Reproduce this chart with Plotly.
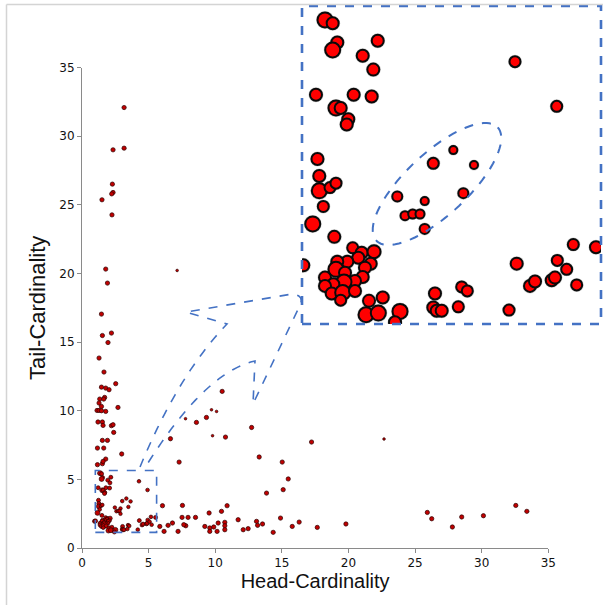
import numpy as np
import plotly.graph_objects as go

# ---------------- data ----------------
# points outside the zoom box (Head-Cardinality, Tail-Cardinality)
head_out = [3.16, 3.16, 2.33, 2.28, 2.33, 2.23, 1.50, 2.25, 1.78, 7.14, 1.91, 1.46, 2.21, 1.53,
            1.95, 1.28, 1.65, 2.53, 1.46, 1.78, 2.03, 1.70, 1.33, 1.63, 1.28, 1.46, 2.70, 1.13,
            1.28, 1.46, 1.78, 1.20, 1.53, 2.21, 2.33, 1.58, 2.38, 1.53, 1.91, 1.16, 1.63, 1.78,
            2.98, 1.16, 1.53, 1.58,
            7.77, 8.59, 9.34, 9.72, 10.10, 10.52, 6.64, 9.80, 10.77, 7.29, 12.73, 13.30, 13.85,
            15.03, 15.48, 15.10, 6.04, 7.54, 7.51, 7.79, 7.64, 7.96, 8.52, 5.84, 6.16, 6.46,
            6.79, 7.21, 9.54, 9.22, 9.59, 9.89, 9.59, 10.14, 10.22, 10.47, 10.89, 10.72, 10.72,
            10.72, 11.72, 12.10, 12.47, 13.10, 13.18, 13.55, 14.35, 14.90, 15.78, 16.30,
            17.23, 22.67, 17.66, 19.81, 25.92, 26.25, 27.80, 28.50, 30.13, 32.56, 33.39, 0.95]
tail_out = [32.09, 29.13, 29.01, 26.51, 25.90, 25.80, 25.37, 24.27, 20.32, 20.22, 19.30, 17.04, 15.66, 15.48,
            14.97, 13.84, 12.82, 11.97, 11.72, 11.65, 11.53, 10.97, 10.85, 10.85, 10.56, 10.31, 10.24, 10.02,
            10.02, 10.00, 9.95, 9.18, 9.18, 8.91, 8.98, 8.93, 8.42, 7.84, 7.84, 7.28, 7.28, 6.48,
            6.85, 6.07, 6.14, 6.31,
            9.42, 9.15, 9.51, 10.07, 9.95, 11.41, 7.96, 8.18, 8.08, 6.26, 8.78, 6.63, 4.00,
            6.26, 5.03, 4.25, 3.08, 3.10, 2.23, 1.62, 1.70, 2.23, 2.23, 1.57, 1.21, 1.65,
            1.82, 1.21, 2.55, 1.57, 1.46, 1.53, 1.21, 1.21, 1.82, 2.67, 3.08, 1.87, 1.62,
            1.33, 2.06, 1.33, 1.41, 1.94, 1.65, 1.75, 1.14, 2.18, 1.57, 1.89,
            7.72, 7.94, 1.50, 1.75, 2.59, 2.13, 1.53, 2.26, 2.35, 3.10, 2.67, 1.95]
tiny_out = [0, 0, 0, 0, 0, 0, 0, 0, 0, 1, 0, 0, 0, 0,
            0, 0, 0, 0, 0, 0, 0, 0, 0, 0, 0, 0, 0, 0,
            0, 0, 0, 0, 0, 0, 0, 0, 0, 0, 0, 0, 0, 0,
            0, 0, 0, 0,
            1, 0, 0, 1, 1, 0, 0, 1, 0, 0, 0, 0, 0,
            0, 0, 0, 0, 0, 0, 0, 0, 0, 0, 0, 0, 0,
            0, 0, 0, 0, 0, 0, 0, 0, 0, 0, 0, 0, 0,
            0, 0, 0, 0, 0, 0, 0, 0, 0, 0, 0,
            0, 1, 0, 0, 0, 0, 0, 0, 0, 0, 0, 0]

# points inside the zoom box (shown enlarged in the inset)
head_in = [1.354, 1.472, 1.543, 1.472, 2.165, 1.934, 2.097, 4.277, 1.215, 1.795, 2.072, 1.523,
           1.595, 1.712, 1.688, 4.919, 1.238, 3.328, 3.020, 3.646, 1.266, 1.266, 1.431, 1.523,
           1.328, 1.165, 1.497, 2.466, 2.888, 3.482, 2.585, 2.703, 2.815, 2.888,
           1.780, 1.918, 2.108, 1.866, 2.057, 1.697, 1.543, 1.523, 1.969, 1.354, 1.662, 1.934,
           1.815, 1.646, 1.482, 1.354, 1.457, 1.626, 1.815, 1.595, 2.031, 2.242, 1.985, 2.174,
           2.508, 1.020, 2.431,
           3.046, 3.457, 3.543, 3.020, 3.072, 3.149, 3.405, 4.185, 4.303, 4.508, 4.585, 4.842,
           4.892, 4.928, 5.072, 5.174, 5.226, 5.523]
tail_in = [5.453, 5.406, 5.133, 5.026, 5.157, 4.945, 4.748, 4.861, 4.391, 4.391, 4.367, 4.203,
           4.203, 4.043, 3.969, 4.227, 3.480, 3.606, 3.419, 3.395, 3.240, 3.029, 3.075, 3.137,
           2.807, 2.559, 2.376, 2.948, 2.883, 2.996, 2.676, 2.700, 2.700, 2.489,
           2.221, 2.150, 2.165, 2.080, 1.995, 2.024, 2.024, 1.915, 1.939, 1.798, 1.868, 1.806,
           1.750, 1.736, 1.704, 1.680, 1.573, 1.587, 1.609, 1.478, 1.468, 1.516, 1.271, 1.295,
           1.319, 1.972, 1.164,
           1.573, 1.666, 1.609, 1.375, 1.327, 1.327, 1.384, 1.337, 1.996, 1.680, 1.742, 1.760,
           1.798, 2.042, 1.915, 2.267, 1.694, 2.229]
size_in = [15, 12, 12, 15, 12, 12, 12, 11, 12, 12, 12, 15,
           12, 12, 12, 11, 12, 8, 11, 8, 12, 15, 11, 11,
           11, 15, 12, 10, 8, 10, 9, 9, 9, 10,
           11, 12, 13, 12, 12, 12, 12, 15, 12, 12, 12, 12,
           12, 15, 12, 12, 12, 15, 12, 11, 12, 12, 15, 15,
           15, 12, 12,
           12, 11, 11, 12, 12, 12, 11, 11, 12, 12, 12, 12,
           12, 11, 11, 11, 11, 12]

# zoom box (data range of the inset)
box_x = [1.0, 5.6]
box_y = [1.14, 5.65]

axis_ticks = [0, 5, 10, 15, 20, 25, 30, 35]
x_title = "Head-Cardinality"
y_title = "Tail-Cardinality"

# ---------------- layout geometry ----------------
W, H = 603, 605
ML, MR, MT, MB = 82, 2, 6, 57
PW, PH = W - ML - MR, H - MT - MB


def pxx(x):
    return (x - ML) / PW


def pxy(y):
    return (H - MB - y) / PH


def path_from(points, closed=False):
    s = "M " + " L ".join(f"{pxx(a):.4f},{pxy(b):.4f}" for a, b in points)
    return s + (" Z" if closed else "")


BLUE = "#4472C4"

fig = go.Figure()

main_x = head_out + head_in
main_y = tail_out + tail_in
main_s = [2.6 if t else 4.3 for t in tiny_out] + [max(3.5, s * 0.33) for s in size_in]

fig.add_trace(go.Scatter(
    x=main_x, y=main_y, mode="markers", xaxis="x", yaxis="y",
    marker=dict(size=main_s, color="#c00000", opacity=1, line=dict(color="#2a0000", width=0.7)),
    showlegend=False, hoverinfo="x+y"))

# inset: glow + markers
fig.add_trace(go.Scatter(
    x=head_in, y=tail_in, mode="markers", xaxis="x2", yaxis="y2",
    marker=dict(size=[s + 3 for s in size_in], color="rgba(90,90,90,0.3)", opacity=1, line=dict(width=0)),
    showlegend=False, hoverinfo="skip"))
fig.add_trace(go.Scatter(
    x=head_in, y=tail_in, mode="markers", xaxis="x2", yaxis="y2",
    marker=dict(size=size_in, color="#ff0000", opacity=1, line=dict(color="#0a0a0a", width=2)),
    showlegend=False, hoverinfo="x+y"))

shapes = []
# zoom box on main plot
shapes.append(dict(type="rect", xref="x", yref="y", x0=box_x[0], x1=box_x[1], y0=box_y[0], y1=box_y[1],
                   line=dict(color=BLUE, width=1.6, dash="dash"), fillcolor="rgba(0,0,0,0)"))
# inset border
shapes.append(dict(type="rect", xref="x2 domain", yref="y2 domain", x0=0, x1=1, y0=0, y1=1,
                   line=dict(color=BLUE, width=2.6, dash="dash"), fillcolor="rgba(0,0,0,0)", layer="above"))

# curved arrow (pixel geometry -> paper)
def quad(p0, c, p2, n=24):
    t = np.linspace(0, 1, n)
    return [((1 - u) ** 2 * p0[0] + 2 * (1 - u) * u * c[0] + u ** 2 * p2[0],
             (1 - u) ** 2 * p0[1] + 2 * (1 - u) * u * c[1] + u ** 2 * p2[1]) for u in t]

arrow = []
arrow += quad((140, 467), (178, 375), (227, 324))
arrow += [(186, 312), (292, 294)]
arrow += quad((292, 294), (303, 295), (301, 303), 6)[1:]
arrow += [(253, 404), (255, 361)]
arrow += quad((255, 361), (205, 372), (146, 466))[1:]
shapes.append(dict(type="path", xref="paper", yref="paper", path=path_from(arrow),
                   line=dict(color=BLUE, width=1.6, dash="dash")))

# dashed ellipse in the inset
cx, cy, a, b, ang = 437, 184, 83, 31, np.deg2rad(-43)
tt = np.linspace(0, 2 * np.pi, 90)
ell = [(cx + a * np.cos(u) * np.cos(ang) - b * np.sin(u) * np.sin(ang),
        cy + a * np.cos(u) * np.sin(ang) + b * np.sin(u) * np.cos(ang)) for u in tt]
shapes.append(dict(type="path", xref="paper", yref="paper", path=path_from(ell, closed=True),
                   line=dict(color=BLUE, width=2, dash="dash"), layer="above"))

# faint picture frame
shapes.append(dict(type="line", xref="paper", yref="paper", x0=pxx(6.5), x1=pxx(6.5), y0=pxy(4.5), y1=pxy(605),
                   line=dict(color="#d4d4d4", width=1.5)))
shapes.append(dict(type="line", xref="paper", yref="paper", x0=pxx(6.5), x1=pxx(603), y0=pxy(4.5), y1=pxy(4.5),
                   line=dict(color="#d4d4d4", width=1.5)))

axis_common = dict(range=[0, 35], tickvals=axis_ticks, ticktext=[str(v) for v in axis_ticks],
                   showline=True, linecolor="#8a8a8a", linewidth=1, ticks="outside", ticklen=4,
                   tickcolor="#8a8a8a", showgrid=False, zeroline=False, automargin=False,
                   tickfont=dict(family="DejaVu Sans", size=12, color="#111111"))

fig.update_layout(
    width=W, height=H,
    margin=dict(l=ML, r=MR, t=MT, b=MB, autoexpand=False),
    paper_bgcolor="white", plot_bgcolor="rgba(0,0,0,0)",
    xaxis=dict(domain=[0, pxx(548.3)], anchor="y",
               title=dict(text=x_title, standoff=3,
                          font=dict(family="Liberation Sans", size=20, color="#111111")),
               **axis_common),
    yaxis=dict(domain=[0, pxy(67.6)], anchor="x",
               title=dict(text=y_title, standoff=7,
                          font=dict(family="Liberation Sans", size=22, color="#111111")),
               **axis_common),
    xaxis2=dict(domain=[pxx(302), 1], anchor="y2", range=box_x, visible=False),
    yaxis2=dict(domain=[pxy(324), 1], anchor="x2", range=box_y, visible=False),
    shapes=shapes,
    showlegend=False,
)

fig.write_html("out.html", config={"displayModeBar": False},
               post_script="document.body.style.margin='0px';")
